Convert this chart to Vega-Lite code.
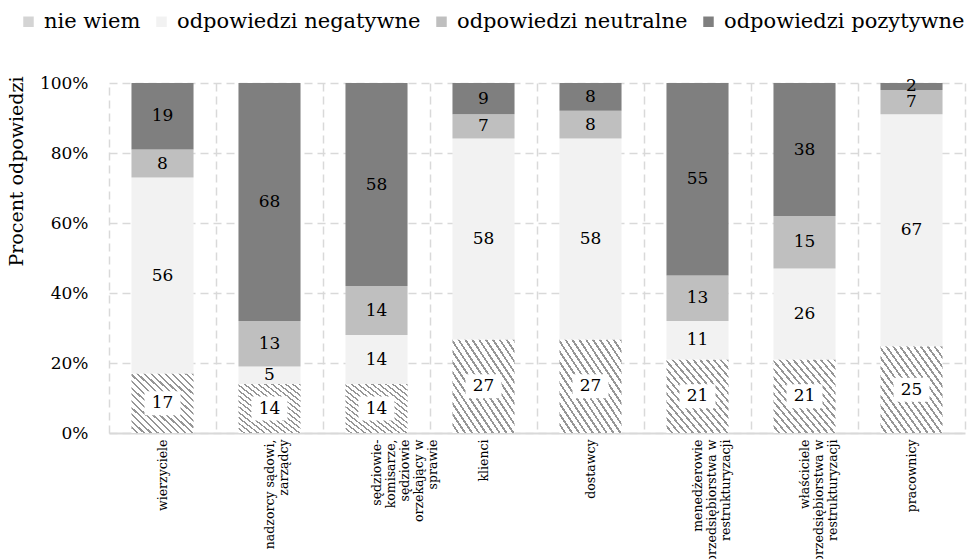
{
  "$schema": "https://vega.github.io/schema/vega-lite/v6.json",
  "width": 856,
  "height": 350,
  "autosize": {"type": "none"},
  "padding": {"left": 109, "top": 83, "right": 10, "bottom": 126},
  "background": "white",
  "config": {
    "view": {"stroke": null},
    "font": "DejaVu Serif",
    "text": {"font": "DejaVu Serif"},
    "axis": {"labelFont": "DejaVu Serif", "titleFont": "DejaVu Serif", "labelColor": "#000000", "titleColor": "#000000"},
    "legend": {"labelFont": "DejaVu Serif"}
  },
  "data": {
    "values": [
      {"grupa": "wierzyciele", "kategoria": "nie wiem", "nr": 1, "wartosc": 17},
      {"grupa": "wierzyciele", "kategoria": "odpowiedzi negatywne", "nr": 2, "wartosc": 56},
      {"grupa": "wierzyciele", "kategoria": "odpowiedzi neutralne", "nr": 3, "wartosc": 8},
      {"grupa": "wierzyciele", "kategoria": "odpowiedzi pozytywne", "nr": 4, "wartosc": 19},
      {"grupa": "nadzorcy sądowi,\nzarządcy", "kategoria": "nie wiem", "nr": 1, "wartosc": 14},
      {"grupa": "nadzorcy sądowi,\nzarządcy", "kategoria": "odpowiedzi negatywne", "nr": 2, "wartosc": 5},
      {"grupa": "nadzorcy sądowi,\nzarządcy", "kategoria": "odpowiedzi neutralne", "nr": 3, "wartosc": 13},
      {"grupa": "nadzorcy sądowi,\nzarządcy", "kategoria": "odpowiedzi pozytywne", "nr": 4, "wartosc": 68},
      {"grupa": "sędziowie-\nkomisarze,\nsędziowie\norzekający w\nsprawie", "kategoria": "nie wiem", "nr": 1, "wartosc": 14},
      {"grupa": "sędziowie-\nkomisarze,\nsędziowie\norzekający w\nsprawie", "kategoria": "odpowiedzi negatywne", "nr": 2, "wartosc": 14},
      {"grupa": "sędziowie-\nkomisarze,\nsędziowie\norzekający w\nsprawie", "kategoria": "odpowiedzi neutralne", "nr": 3, "wartosc": 14},
      {"grupa": "sędziowie-\nkomisarze,\nsędziowie\norzekający w\nsprawie", "kategoria": "odpowiedzi pozytywne", "nr": 4, "wartosc": 58},
      {"grupa": "klienci", "kategoria": "nie wiem", "nr": 1, "wartosc": 27},
      {"grupa": "klienci", "kategoria": "odpowiedzi negatywne", "nr": 2, "wartosc": 58},
      {"grupa": "klienci", "kategoria": "odpowiedzi neutralne", "nr": 3, "wartosc": 7},
      {"grupa": "klienci", "kategoria": "odpowiedzi pozytywne", "nr": 4, "wartosc": 9},
      {"grupa": "dostawcy", "kategoria": "nie wiem", "nr": 1, "wartosc": 27},
      {"grupa": "dostawcy", "kategoria": "odpowiedzi negatywne", "nr": 2, "wartosc": 58},
      {"grupa": "dostawcy", "kategoria": "odpowiedzi neutralne", "nr": 3, "wartosc": 8},
      {"grupa": "dostawcy", "kategoria": "odpowiedzi pozytywne", "nr": 4, "wartosc": 8},
      {"grupa": "menedżerowie\nprzedsiębiorstwa w\nrestrukturyzacji", "kategoria": "nie wiem", "nr": 1, "wartosc": 21},
      {"grupa": "menedżerowie\nprzedsiębiorstwa w\nrestrukturyzacji", "kategoria": "odpowiedzi negatywne", "nr": 2, "wartosc": 11},
      {"grupa": "menedżerowie\nprzedsiębiorstwa w\nrestrukturyzacji", "kategoria": "odpowiedzi neutralne", "nr": 3, "wartosc": 13},
      {"grupa": "menedżerowie\nprzedsiębiorstwa w\nrestrukturyzacji", "kategoria": "odpowiedzi pozytywne", "nr": 4, "wartosc": 55},
      {"grupa": "właściciele\nprzedsiębiorstwa w\nrestrukturyzacji", "kategoria": "nie wiem", "nr": 1, "wartosc": 21},
      {"grupa": "właściciele\nprzedsiębiorstwa w\nrestrukturyzacji", "kategoria": "odpowiedzi negatywne", "nr": 2, "wartosc": 26},
      {"grupa": "właściciele\nprzedsiębiorstwa w\nrestrukturyzacji", "kategoria": "odpowiedzi neutralne", "nr": 3, "wartosc": 15},
      {"grupa": "właściciele\nprzedsiębiorstwa w\nrestrukturyzacji", "kategoria": "odpowiedzi pozytywne", "nr": 4, "wartosc": 38},
      {"grupa": "pracownicy", "kategoria": "nie wiem", "nr": 1, "wartosc": 25},
      {"grupa": "pracownicy", "kategoria": "odpowiedzi negatywne", "nr": 2, "wartosc": 67},
      {"grupa": "pracownicy", "kategoria": "odpowiedzi neutralne", "nr": 3, "wartosc": 7},
      {"grupa": "pracownicy", "kategoria": "odpowiedzi pozytywne", "nr": 4, "wartosc": 2}
    ]
  },
  "encoding": {
    "x": {
      "field": "grupa",
      "type": "nominal",
      "sort": null,
      "scale": {"paddingInner": 0.42, "paddingOuter": 0.21},
      "axis": {
        "title": null,
        "labelExpr": "split(datum.label, '\\n')",
        "labelFont": "DejaVu Serif",
        "labelAngle": -90,
        "labelAlign": "right",
        "labelBaseline": "middle",
        "labelPadding": 6,
        "labelFontSize": 12.5,
        "labelLineHeight": 14,
        "labelLimit": 0,
        "labelOverlap": false,
        "labelFlush": false,
        "ticks": false,
        "bandPosition": 1.3629,
        "domain": true,
        "domainColor": "#d9d9d9",
        "domainWidth": 2,
        "grid": true,
        "gridColor": "#d9d9d9",
        "gridDash": [8, 5],
        "gridWidth": 1.5
      }
    },
    "order": {"field": "nr", "type": "quantitative"}
  },
  "layer": [
    {
      "mark": {"type": "bar", "strokeWidth": 0},
      "encoding": {
        "y": {
          "field": "wartosc",
          "type": "quantitative",
          "stack": "normalize",
          "scale": {"domain": [0, 1]},
          "axis": {
            "values": [0, 0.2, 0.4, 0.6, 0.8, 1],
            "format": ".0%",
            "labelFont": "DejaVu Serif",
            "domain": true,
            "domainColor": "#d9d9d9",
            "domainDash": [8, 5],
            "domainWidth": 1.5,
            "ticks": false,
            "labelPadding": 21,
            "labelFontSize": 17,
            "grid": true,
            "gridColor": "#d9d9d9",
            "gridDash": [8, 5],
            "gridWidth": 1.5,
            "title": "Procent odpowiedzi",
            "titleFont": "DejaVu Serif",
            "titleFontSize": 19,
            "titleFontWeight": "normal",
            "titleAngle": -90,
            "titleAlign": "center",
            "titleBaseline": "middle",
            "titleX": -93,
            "titleY": 88
          }
        },
        "fill": {
          "condition": {
            "test": "datum.kategoria === 'nie wiem'",
            "value": {
              "gradient": "linear",
              "x1": 0, "y1": 1, "x2": 1, "y2": 0,
              "stops": [
                {"offset": 0, "color": "#ffffff"}, {"offset": 0.0378, "color": "#ffffff"}, {"offset": 0.0378, "color": "#969696"}, {"offset": 0.0556, "color": "#969696"},
                {"offset": 0.0556, "color": "#ffffff"}, {"offset": 0.0933, "color": "#ffffff"}, {"offset": 0.0933, "color": "#969696"}, {"offset": 0.1111, "color": "#969696"},
                {"offset": 0.1111, "color": "#ffffff"}, {"offset": 0.1489, "color": "#ffffff"}, {"offset": 0.1489, "color": "#969696"}, {"offset": 0.1667, "color": "#969696"},
                {"offset": 0.1667, "color": "#ffffff"}, {"offset": 0.2044, "color": "#ffffff"}, {"offset": 0.2044, "color": "#969696"}, {"offset": 0.2222, "color": "#969696"},
                {"offset": 0.2222, "color": "#ffffff"}, {"offset": 0.26, "color": "#ffffff"}, {"offset": 0.26, "color": "#969696"}, {"offset": 0.2778, "color": "#969696"},
                {"offset": 0.2778, "color": "#ffffff"}, {"offset": 0.3156, "color": "#ffffff"}, {"offset": 0.3156, "color": "#969696"}, {"offset": 0.3333, "color": "#969696"},
                {"offset": 0.3333, "color": "#ffffff"}, {"offset": 0.3711, "color": "#ffffff"}, {"offset": 0.3711, "color": "#969696"}, {"offset": 0.3889, "color": "#969696"},
                {"offset": 0.3889, "color": "#ffffff"}, {"offset": 0.4267, "color": "#ffffff"}, {"offset": 0.4267, "color": "#969696"}, {"offset": 0.4444, "color": "#969696"},
                {"offset": 0.4444, "color": "#ffffff"}, {"offset": 0.4822, "color": "#ffffff"}, {"offset": 0.4822, "color": "#969696"}, {"offset": 0.5, "color": "#969696"},
                {"offset": 0.5, "color": "#ffffff"}, {"offset": 0.5378, "color": "#ffffff"}, {"offset": 0.5378, "color": "#969696"}, {"offset": 0.5556, "color": "#969696"},
                {"offset": 0.5556, "color": "#ffffff"}, {"offset": 0.5933, "color": "#ffffff"}, {"offset": 0.5933, "color": "#969696"}, {"offset": 0.6111, "color": "#969696"},
                {"offset": 0.6111, "color": "#ffffff"}, {"offset": 0.6489, "color": "#ffffff"}, {"offset": 0.6489, "color": "#969696"}, {"offset": 0.6667, "color": "#969696"},
                {"offset": 0.6667, "color": "#ffffff"}, {"offset": 0.7044, "color": "#ffffff"}, {"offset": 0.7044, "color": "#969696"}, {"offset": 0.7222, "color": "#969696"},
                {"offset": 0.7222, "color": "#ffffff"}, {"offset": 0.76, "color": "#ffffff"}, {"offset": 0.76, "color": "#969696"}, {"offset": 0.7778, "color": "#969696"},
                {"offset": 0.7778, "color": "#ffffff"}, {"offset": 0.8156, "color": "#ffffff"}, {"offset": 0.8156, "color": "#969696"}, {"offset": 0.8333, "color": "#969696"},
                {"offset": 0.8333, "color": "#ffffff"}, {"offset": 0.8711, "color": "#ffffff"}, {"offset": 0.8711, "color": "#969696"}, {"offset": 0.8889, "color": "#969696"},
                {"offset": 0.8889, "color": "#ffffff"}, {"offset": 0.9267, "color": "#ffffff"}, {"offset": 0.9267, "color": "#969696"}, {"offset": 0.9444, "color": "#969696"},
                {"offset": 0.9444, "color": "#ffffff"}, {"offset": 0.9822, "color": "#ffffff"}, {"offset": 0.9822, "color": "#969696"}, {"offset": 1, "color": "#969696"}
              ]
            }
          },
          "field": "kategoria",
          "type": "nominal",
          "sort": null,
          "scale": {
            "domain": ["nie wiem", "odpowiedzi negatywne", "odpowiedzi neutralne", "odpowiedzi pozytywne"],
            "range": ["#d4d4d4", "#f2f2f2", "#bfbfbf", "#7f7f7f"]
          },
          "legend": {
            "title": null,
            "orient": "none",
            "direction": "horizontal",
            "legendX": -91,
            "legendY": -72,
            "padding": 0,
            "symbolType": "square",
            "symbolSize": 110,
            "symbolStrokeWidth": 0,
            "labelFont": "DejaVu Serif",
            "labelFontSize": 21,
            "labelColor": "#000000",
            "labelOffset": 5,
            "columnPadding": 10,
            "labelLimit": 0,
            "encode": {
              "symbols": {
                "update": {
                  "fill": {
                    "signal": "datum.value === 'nie wiem' ? {gradient: 'linear', x1: 0, y1: 1, x2: 1, y2: 0, stops: [{offset: 0, color: '#ffffff'}, {offset: 0.17, color: '#ffffff'}, {offset: 0.17, color: '#a6a6a6'}, {offset: 0.25, color: '#a6a6a6'}, {offset: 0.25, color: '#ffffff'}, {offset: 0.42, color: '#ffffff'}, {offset: 0.42, color: '#a6a6a6'}, {offset: 0.5, color: '#a6a6a6'}, {offset: 0.5, color: '#ffffff'}, {offset: 0.67, color: '#ffffff'}, {offset: 0.67, color: '#a6a6a6'}, {offset: 0.75, color: '#a6a6a6'}, {offset: 0.75, color: '#ffffff'}, {offset: 0.92, color: '#ffffff'}, {offset: 0.92, color: '#a6a6a6'}, {offset: 1, color: '#a6a6a6'}]} : scale('fill', datum.value)"
                  }
                }
              }
            }
          }
        }
      }
    },
    {
      "mark": {
        "type": "point",
        "shape": "M-1.5,-1L1.5,-1L1.5,1L-1.5,1Z",
        "filled": true,
        "size": 576,
        "color": "#ffffff",
        "strokeWidth": 0
      },
      "encoding": {
        "y": {"field": "wartosc", "type": "quantitative", "stack": "normalize", "bandPosition": 0.5},
        "opacity": {"condition": {"test": "datum.kategoria === 'nie wiem'", "value": 1}, "value": 0}
      }
    },
    {
      "mark": {"type": "text", "fontSize": 17, "color": "#000000", "font": "DejaVu Serif"},
      "encoding": {
        "y": {"field": "wartosc", "type": "quantitative", "stack": "normalize", "bandPosition": 0.5},
        "text": {"field": "wartosc", "type": "quantitative"}
      }
    }
  ]
}
